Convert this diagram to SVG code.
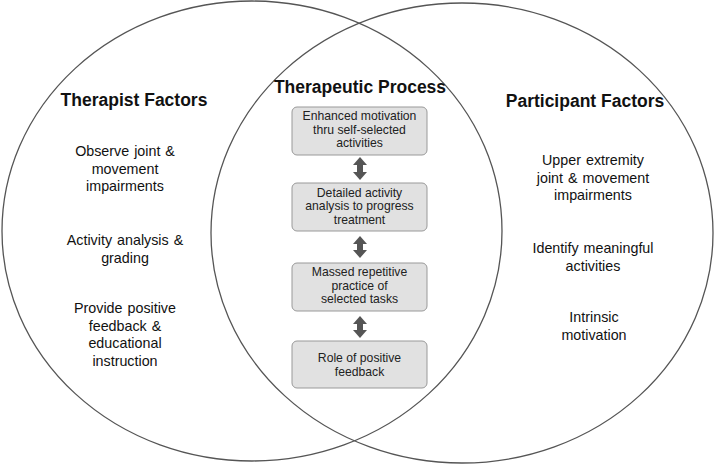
<svg xmlns="http://www.w3.org/2000/svg" width="714" height="464" viewBox="0 0 714 464">
<style>
.circ{fill:none;stroke:#555;stroke-width:1.3}
.title{font-family:"Liberation Sans",Arial,sans-serif;font-weight:bold;font-size:17.5px;fill:#111;text-anchor:middle}
.body{font-family:"Liberation Sans",Arial,sans-serif;font-size:14.3px;fill:#111;text-anchor:middle;word-spacing:1px}
.box{fill:#e1e1e1;stroke:#999;stroke-width:1}
.btxt{font-family:"Liberation Sans",Arial,sans-serif;font-size:12.2px;fill:#222;text-anchor:middle}
.arr{fill:#555}
</style>
<rect width="714" height="464" fill="#fff"/>
<g id="therapist-circle"><ellipse class="circ" cx="252" cy="231" rx="250" ry="230"/></g>
<g id="participant-circle"><ellipse class="circ" cx="462" cy="233" rx="251" ry="230"/></g>

<g id="therapist-factors">
<text class="title" x="134" y="106">Therapist Factors</text>
<text class="body" x="125" y="156">Observe joint &amp;</text>
<text class="body" x="125" y="173.5">movement</text>
<text class="body" x="125" y="191">impairments</text>
<text class="body" x="125" y="245">Activity analysis &amp;</text>
<text class="body" x="125" y="262.5">grading</text>
<text class="body" x="125" y="313">Provide positive</text>
<text class="body" x="125" y="330.5">feedback &amp;</text>
<text class="body" x="125" y="348">educational</text>
<text class="body" x="125" y="365.5">instruction</text>
</g>

<g id="participant-factors">
<text class="title" x="585" y="107">Participant Factors</text>
<text class="body" x="593" y="165">Upper extremity</text>
<text class="body" x="593" y="182.5">joint &amp; movement</text>
<text class="body" x="593" y="200">impairments</text>
<text class="body" x="593" y="253">Identify meaningful</text>
<text class="body" x="593" y="270.5">activities</text>
<text class="body" x="594" y="322">Intrinsic</text>
<text class="body" x="594" y="339.5">motivation</text>
</g>

<g id="therapeutic-process">
<text class="title" x="360" y="93">Therapeutic Process</text>
</g>

<g id="box1">
<rect class="box" x="292" y="107" width="135" height="48" rx="5"/>
<text class="btxt" x="359.5" y="120">Enhanced motivation</text>
<text class="btxt" x="359.5" y="133.5">thru self-selected</text>
<text class="btxt" x="359.5" y="147">activities</text>
</g>
<g id="box2">
<rect class="box" x="292" y="183" width="135" height="48" rx="5"/>
<text class="btxt" x="359.5" y="196.5">Detailed activity</text>
<text class="btxt" x="359.5" y="210">analysis to progress</text>
<text class="btxt" x="359.5" y="223.5">treatment</text>
</g>
<g id="box3">
<rect class="box" x="292" y="263" width="135" height="48" rx="5"/>
<text class="btxt" x="359.5" y="276">Massed repetitive</text>
<text class="btxt" x="359.5" y="289.5">practice of</text>
<text class="btxt" x="359.5" y="303">selected tasks</text>
</g>
<g id="box4">
<rect class="box" x="292" y="341" width="135" height="47" rx="5"/>
<text class="btxt" x="359.5" y="362">Role of positive</text>
<text class="btxt" x="359.5" y="375.5">feedback</text>
</g>

<g id="connectors">
<path class="arr" d="M360,157 L367,165 L363,165 L363,172 L367,172 L360,180 L353,172 L357,172 L357,165 L353,165 Z"/>
<path class="arr" d="M360,236 L367,244 L363,244 L363,250 L367,250 L360,258 L353,250 L357,250 L357,244 L353,244 Z"/>
<path class="arr" d="M360,316 L367,324 L363,324 L363,330 L367,330 L360,338 L353,330 L357,330 L357,324 L353,324 Z"/>
</g>
</svg>
